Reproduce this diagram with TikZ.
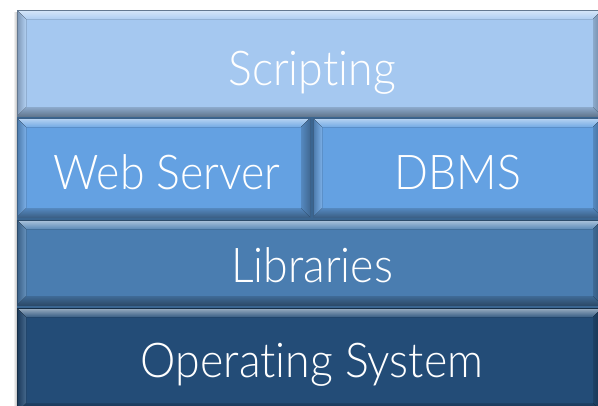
\documentclass[tikz,border=0pt]{standalone}
\usepackage{fontspec}
\setmainfont{Lato}[UprightFont=* Light, Ligatures=NoCommon, FakeStretch=0.93]
\definecolor{cScript}{HTML}{A5C8F0}
\definecolor{cWeb}{HTML}{64A1E2}
\definecolor{cLib}{HTML}{4A7DB0}
\definecolor{cOS}{HTML}{234C77}
\definecolor{cJoint}{HTML}{3A6590}
% bevelled panel: #1 x1, #2 y1, #3 x2, #4 y2 (pixel units, y downward), #5 colour
\newcommand\bevelpanel[5]{%
  \fill[#5] (#1,#2) rectangle (#3,#4);
  % top band
  \fill[top color=#5!45!white, bottom color=#5!90!white]
    (#1,#2) -- (#3,#2) -- ({#3-9},{#2+9}) -- ({#1+9},{#2+9}) -- cycle;
  % bottom band
  \fill[top color=#5!85!black, bottom color=#5!60!black]
    (#1,#4) -- (#3,#4) -- ({#3-9},{#4-9}) -- ({#1+9},{#4-9}) -- cycle;
  % left band
  \fill[left color=#5!75!black, right color=#5!85!white]
    (#1,#2) -- ({#1+9},{#2+9}) -- ({#1+9},{#4-9}) -- (#1,#4) -- cycle;
  % right band
  \fill[left color=#5!85!black, right color=#5!65!black]
    (#3,#2) -- ({#3-9},{#2+9}) -- ({#3-9},{#4-9}) -- (#3,#4) -- cycle;
  \draw[#5!60!black, line width=0.7pt] (#1,#2) rectangle (#3,#4);
}
\tikzset{label text/.style={text=white, font=\fontsize{48}{48}\selectfont, inner sep=0pt, anchor=base}}
\begin{document}
\begin{tikzpicture}[x=1pt, y=-1pt]
  \useasboundingbox (0,0) rectangle (598,405);
  \begin{scope}
    \clip (0,0) rectangle (598,405);
    % soft shadow along the left side of the stack
    \fill[left color=white, right color=black!25] (13,12) rectangle (17,405);
    % dark joints between the panels
    \fill[cJoint] (17,10) rectangle (602,410);
    \bevelpanel{17}{10}{602}{116}{cScript}
    \bevelpanel{17}{118}{310}{217}{cWeb}
    \bevelpanel{313}{118}{602}{217}{cWeb}
    \bevelpanel{17}{220}{602}{305}{cLib}
    \bevelpanel{17}{308}{602}{412}{cOS}
  \end{scope}
  \node[label text] (scripting) at (312,85) {Scripting};
  \node[label text] (web) at (167,189) {Web Server};
  \node[label text] (dbms) at (458,189) {DBMS};
  \node[label text] (libs) at (312,282) {Libraries};
  \node[label text] (os) at (312,377) {Operating System};
\end{tikzpicture}
\end{document}
